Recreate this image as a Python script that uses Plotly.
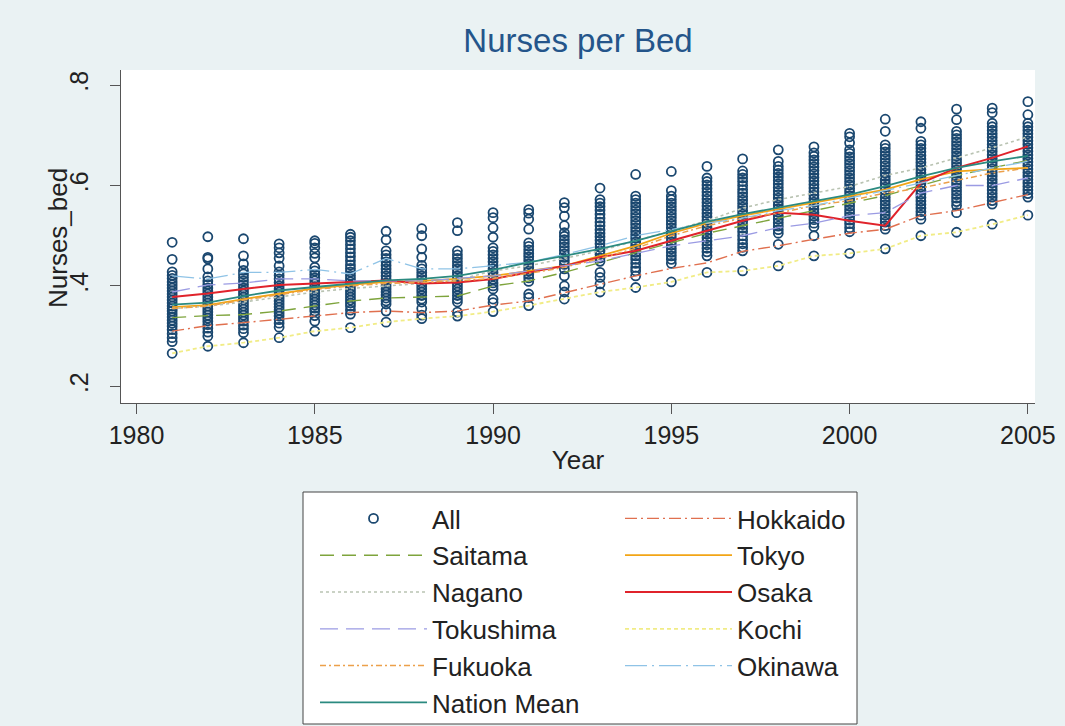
import plotly.graph_objects as go

# nurses per bed, 47 prefectures per year
years = list(range(1981, 2006))

all_points = [
    [0.487, 0.453, 0.428, 0.421, 0.415, 0.408, 0.402, 0.396, 0.39, 0.384, 0.378, 0.372, 0.366, 0.36, 0.355, 0.35, 0.344, 0.338, 0.332, 0.326, 0.32, 0.313, 0.305, 0.297, 0.289, 0.266],
    [0.498, 0.457, 0.454, 0.434, 0.418, 0.41, 0.403, 0.396, 0.39, 0.384, 0.378, 0.372, 0.366, 0.36, 0.354, 0.348, 0.342, 0.336, 0.33, 0.323, 0.316, 0.308, 0.3, 0.28],
    [0.494, 0.46, 0.444, 0.431, 0.424, 0.417, 0.41, 0.403, 0.396, 0.39, 0.384, 0.378, 0.372, 0.366, 0.36, 0.354, 0.348, 0.342, 0.336, 0.33, 0.322, 0.315, 0.307, 0.287],
    [0.484, 0.476, 0.466, 0.455, 0.44, 0.428, 0.421, 0.414, 0.407, 0.4, 0.394, 0.388, 0.382, 0.376, 0.37, 0.364, 0.358, 0.352, 0.346, 0.34, 0.333, 0.326, 0.318, 0.297],
    [0.49, 0.485, 0.476, 0.465, 0.456, 0.437, 0.43, 0.423, 0.416, 0.41, 0.404, 0.398, 0.392, 0.386, 0.38, 0.374, 0.368, 0.362, 0.356, 0.35, 0.341, 0.33, 0.31],
    [0.503, 0.497, 0.49, 0.482, 0.474, 0.466, 0.458, 0.45, 0.442, 0.435, 0.428, 0.421, 0.414, 0.408, 0.402, 0.396, 0.39, 0.384, 0.378, 0.372, 0.366, 0.36, 0.352, 0.344, 0.317],
    [0.509, 0.492, 0.47, 0.462, 0.455, 0.448, 0.441, 0.434, 0.427, 0.42, 0.413, 0.406, 0.4, 0.394, 0.388, 0.382, 0.376, 0.37, 0.364, 0.35, 0.328],
    [0.514, 0.5, 0.474, 0.457, 0.441, 0.434, 0.427, 0.42, 0.413, 0.406, 0.4, 0.394, 0.388, 0.381, 0.374, 0.368, 0.355, 0.342, 0.335],
    [0.526, 0.51, 0.47, 0.462, 0.455, 0.448, 0.441, 0.434, 0.427, 0.42, 0.413, 0.406, 0.4, 0.394, 0.388, 0.381, 0.374, 0.368, 0.348, 0.34],
    [0.546, 0.536, 0.516, 0.497, 0.476, 0.469, 0.462, 0.455, 0.448, 0.441, 0.434, 0.427, 0.42, 0.413, 0.406, 0.4, 0.394, 0.374, 0.367, 0.349],
    [0.552, 0.545, 0.533, 0.513, 0.486, 0.479, 0.472, 0.465, 0.458, 0.451, 0.444, 0.437, 0.43, 0.423, 0.416, 0.409, 0.384, 0.377, 0.361],
    [0.566, 0.556, 0.539, 0.52, 0.506, 0.499, 0.492, 0.485, 0.478, 0.471, 0.464, 0.457, 0.45, 0.443, 0.434, 0.42, 0.4, 0.388, 0.374],
    [0.595, 0.572, 0.565, 0.558, 0.551, 0.543, 0.535, 0.527, 0.52, 0.512, 0.505, 0.498, 0.491, 0.484, 0.477, 0.47, 0.463, 0.456, 0.449, 0.427, 0.417, 0.404, 0.388],
    [0.622, 0.579, 0.572, 0.565, 0.558, 0.551, 0.544, 0.537, 0.53, 0.523, 0.516, 0.509, 0.502, 0.495, 0.488, 0.481, 0.474, 0.467, 0.46, 0.453, 0.445, 0.437, 0.43, 0.42, 0.397],
    [0.628, 0.59, 0.579, 0.572, 0.565, 0.558, 0.551, 0.544, 0.537, 0.53, 0.523, 0.516, 0.509, 0.502, 0.495, 0.488, 0.481, 0.474, 0.467, 0.46, 0.453, 0.445, 0.408],
    [0.638, 0.615, 0.608, 0.601, 0.594, 0.587, 0.58, 0.573, 0.566, 0.559, 0.552, 0.545, 0.538, 0.531, 0.524, 0.517, 0.51, 0.503, 0.496, 0.489, 0.482, 0.475, 0.468, 0.46, 0.427],
    [0.653, 0.629, 0.622, 0.615, 0.608, 0.6, 0.592, 0.585, 0.578, 0.571, 0.564, 0.557, 0.55, 0.543, 0.536, 0.529, 0.522, 0.515, 0.508, 0.5, 0.492, 0.484, 0.477, 0.47, 0.43],
    [0.671, 0.648, 0.638, 0.631, 0.624, 0.617, 0.61, 0.603, 0.596, 0.589, 0.582, 0.575, 0.568, 0.561, 0.554, 0.547, 0.54, 0.533, 0.526, 0.519, 0.512, 0.505, 0.483, 0.44],
    [0.677, 0.665, 0.658, 0.651, 0.644, 0.637, 0.63, 0.623, 0.616, 0.609, 0.602, 0.595, 0.588, 0.581, 0.574, 0.567, 0.56, 0.553, 0.546, 0.539, 0.532, 0.525, 0.518, 0.5, 0.46],
    [0.704, 0.697, 0.685, 0.671, 0.664, 0.657, 0.65, 0.643, 0.636, 0.629, 0.622, 0.615, 0.608, 0.601, 0.594, 0.587, 0.58, 0.573, 0.566, 0.559, 0.552, 0.545, 0.538, 0.531, 0.524, 0.516, 0.508, 0.465],
    [0.732, 0.708, 0.681, 0.674, 0.667, 0.66, 0.653, 0.646, 0.639, 0.632, 0.625, 0.618, 0.611, 0.604, 0.597, 0.59, 0.583, 0.576, 0.569, 0.562, 0.555, 0.548, 0.541, 0.534, 0.527, 0.52, 0.513, 0.474],
    [0.727, 0.714, 0.688, 0.681, 0.674, 0.667, 0.66, 0.653, 0.646, 0.639, 0.632, 0.625, 0.618, 0.611, 0.604, 0.597, 0.59, 0.583, 0.576, 0.569, 0.562, 0.555, 0.548, 0.541, 0.533, 0.5],
    [0.752, 0.731, 0.708, 0.701, 0.694, 0.687, 0.68, 0.673, 0.666, 0.659, 0.652, 0.645, 0.638, 0.631, 0.624, 0.617, 0.61, 0.603, 0.596, 0.589, 0.582, 0.575, 0.568, 0.56, 0.546, 0.507],
    [0.754, 0.745, 0.724, 0.717, 0.71, 0.703, 0.696, 0.689, 0.682, 0.675, 0.668, 0.661, 0.654, 0.647, 0.64, 0.633, 0.626, 0.619, 0.612, 0.605, 0.598, 0.591, 0.584, 0.577, 0.57, 0.563, 0.523],
    [0.767, 0.741, 0.724, 0.717, 0.71, 0.703, 0.696, 0.689, 0.682, 0.675, 0.668, 0.661, 0.654, 0.647, 0.64, 0.633, 0.626, 0.619, 0.612, 0.605, 0.598, 0.591, 0.584, 0.577, 0.541],
]

hokkaido = [0.31, 0.321, 0.327, 0.334, 0.34, 0.347, 0.35, 0.347, 0.35, 0.362, 0.37, 0.387, 0.404, 0.42, 0.435,
            0.446, 0.469, 0.48, 0.493, 0.505, 0.513, 0.54, 0.55, 0.566, 0.582]
saitama = [0.337, 0.341, 0.343, 0.35, 0.36, 0.37, 0.376, 0.378, 0.38, 0.4, 0.41, 0.427, 0.447, 0.467, 0.486,
           0.505, 0.52, 0.535, 0.55, 0.565, 0.58, 0.6, 0.62, 0.635, 0.65]
tokyo = [0.358, 0.362, 0.374, 0.385, 0.395, 0.402, 0.408, 0.41, 0.414, 0.42, 0.43, 0.44, 0.46, 0.48, 0.505,
         0.525, 0.54, 0.553, 0.567, 0.58, 0.592, 0.612, 0.628, 0.632, 0.635]
nagano = [0.355, 0.36, 0.368, 0.378, 0.388, 0.395, 0.4, 0.405, 0.412, 0.43, 0.44, 0.455, 0.47, 0.49, 0.51,
          0.53, 0.555, 0.572, 0.585, 0.598, 0.62, 0.635, 0.655, 0.675, 0.697]
osaka = [0.378, 0.385, 0.394, 0.402, 0.405, 0.408, 0.411, 0.405, 0.407, 0.414, 0.427, 0.44, 0.457, 0.47, 0.49,
         0.51, 0.53, 0.546, 0.542, 0.53, 0.52, 0.605, 0.635, 0.655, 0.678]
tokushima = [0.388, 0.402, 0.406, 0.414, 0.414, 0.41, 0.41, 0.41, 0.415, 0.42, 0.43, 0.44, 0.45, 0.465, 0.48,
             0.49, 0.5, 0.516, 0.525, 0.54, 0.546, 0.585, 0.6, 0.6, 0.615]
kochi = [0.266, 0.28, 0.287, 0.297, 0.31, 0.317, 0.328, 0.335, 0.34, 0.349, 0.361, 0.374, 0.388, 0.397, 0.408,
         0.427, 0.43, 0.44, 0.46, 0.465, 0.474, 0.5, 0.507, 0.523, 0.541]
fukuoka = [0.355, 0.36, 0.372, 0.383, 0.393, 0.4, 0.405, 0.407, 0.41, 0.415, 0.425, 0.437, 0.455, 0.475, 0.5,
           0.52, 0.535, 0.545, 0.56, 0.57, 0.585, 0.595, 0.61, 0.625, 0.635]
okinawa = [0.42, 0.414, 0.427, 0.427, 0.433, 0.424, 0.455, 0.434, 0.434, 0.44, 0.447, 0.463, 0.48, 0.5, 0.513,
           0.525, 0.535, 0.55, 0.56, 0.575, 0.59, 0.605, 0.62, 0.635, 0.648]
nation_mean = [0.363, 0.367, 0.38, 0.391, 0.398, 0.405, 0.411, 0.414, 0.42, 0.432, 0.447, 0.46, 0.474, 0.49, 0.509,
               0.528, 0.543, 0.556, 0.57, 0.582, 0.599, 0.618, 0.635, 0.648, 0.659]

# name, values, colour, dash, width, legend
series = [
    ("Hokkaido", hokkaido, "#e0704f", "12px,4px,2px,4px", 1.4, "legend2"),
    ("Saitama", saitama, "#7ea43c", "14px,8px", 1.4, "legend"),
    ("Tokyo", tokyo, "#f2a516", "solid", 1.8, "legend2"),
    ("Nagano", nagano, "#b9c3b2", "dot", 1.6, "legend"),
    ("Osaka", osaka, "#e0232b", "solid", 2.0, "legend2"),
    ("Tokushima", tokushima, "#9b9be3", "18px,8px", 1.3, "legend"),
    ("Kochi", kochi, "#f1ec86", "4px,3px", 1.8, "legend2"),
    ("Fukuoka", fukuoka, "#eca04a", "6px,3px,2px,3px", 1.5, "legend"),
    ("Okinawa", okinawa, "#8fc3e6", "22px,5px,2px,5px", 1.3, "legend2"),
    ("Nation Mean", nation_mean, "#2b8a80", "solid", 1.8, "legend"),
]

fig = go.Figure()

xs, ys = [], []
for yr, vals in zip(years, all_points):
    xs += [yr] * len(vals)
    ys += vals
fig.add_trace(go.Scatter(
    x=xs, y=ys, mode="markers", name="All", legend="legend", legendgroup="All",
    marker=dict(symbol="circle-open", size=9, color="#1a476f", line=dict(width=1.8, color="#1a476f"))
))

for name, vals, col, dash, w, leg in series:
    fig.add_trace(go.Scatter(
        x=years, y=vals, mode="lines", name=name, legend=leg, legendgroup=name,
        line=dict(color=col, dash=dash, width=w)
    ))

font = "Liberation Sans, Arial, sans-serif"
axis_style = dict(showline=True, linecolor="#555555", linewidth=1, ticks="outside", ticklen=10,
                  tickcolor="#555555", showgrid=False, zeroline=False, mirror=False, automargin=True,
                  tickfont=dict(size=25, color="#222222", family=font))

fig.update_xaxes(range=[1979.565, 2005.2], tickvals=[1980, 1985, 1990, 1995, 2000, 2005], tickangle=0,
                 title=dict(text="Year", font=dict(size=26, color="#222222", family=font), standoff=2),
                 **axis_style)
fig.update_yaxes(range=[0.167, 0.83], tickvals=[0.2, 0.4, 0.6, 0.8], ticktext=[".2", ".4", ".6", ".8"],
                 tickangle=-90, ticklabelstandoff=12, **axis_style)

legend_style = dict(font=dict(size=26, color="#222222", family=font), bgcolor="rgba(0,0,0,0)",
                    itemwidth=107, tracegroupgap=0, traceorder="normal", orientation="v",
                    xref="container", yref="container", xanchor="left", yanchor="top")

fig.update_layout(
    width=1065, height=726,
    margin=dict(l=121, r=30, t=70, b=323, autoexpand=False),
    paper_bgcolor="#eaf2f3", plot_bgcolor="#ffffff",
    font=dict(family=font),
    title=dict(text="Nurses per Bed", x=0.5, xref="paper", y=1 - 40 / 726, yref="container",
               yanchor="middle", font=dict(size=33, color="#24558a", family=font)),
    showlegend=True,
    legend=dict(x=315 / 1065, y=1 - 495 / 726, **legend_style),
    legend2=dict(x=620 / 1065, y=1 - 495 / 726, **legend_style),
    annotations=[dict(text="Nurses_bed", textangle=-90, showarrow=False,
                      xref="paper", yref="paper", x=(58 - 121) / 914, y=(403 - 238) / 333,
                      xanchor="center", yanchor="middle",
                      font=dict(size=26, color="#222222", family=font))],
    shapes=[dict(type="rect", xref="paper", yref="paper",
                 x0=(303 - 121) / 914, x1=(857 - 121) / 914,
                 y0=(403 - 724) / 333, y1=(403 - 492) / 333,
                 fillcolor="#ffffff", line=dict(color="#444444", width=1), layer="below")],
)

fig.write_html("out.html", config={"displayModeBar": False},
               post_script="document.body.style.margin='0';")
